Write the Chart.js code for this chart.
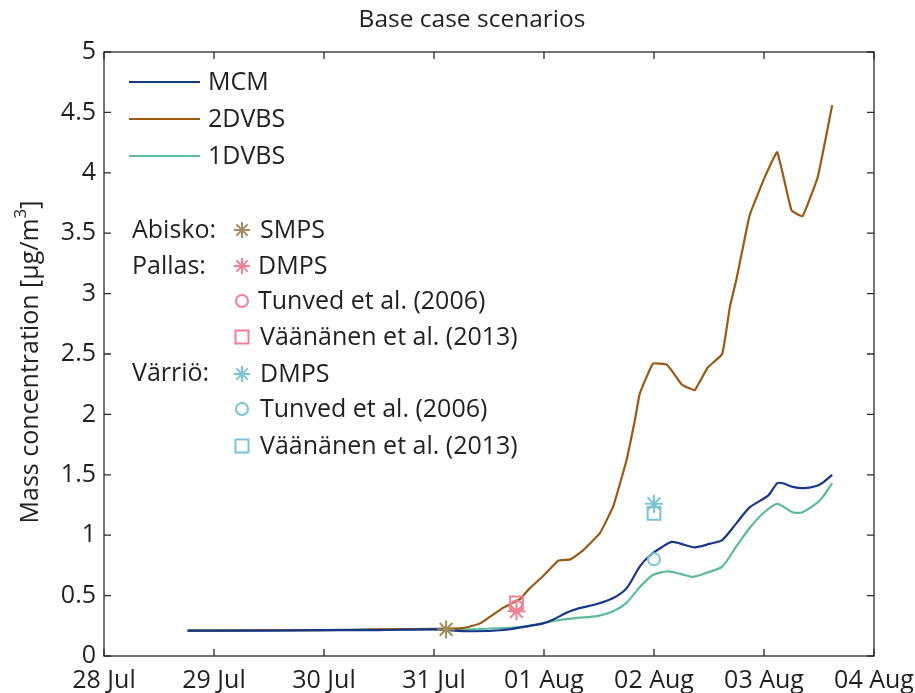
<!DOCTYPE html>
<html>
<head>
<meta charset="utf-8">
<script src="https://cdn.jsdelivr.net/npm/chart.js@4.4.1/dist/chart.umd.min.js"></script>
<style>
html,body{margin:0;padding:0;background:#fff;}
#wrap{width:915px;height:693px;position:relative;}
</style>
</head>
<body>
<div id="wrap"><canvas id="c" width="915" height="693"></canvas></div>
<script>
// ---- data (x = days since 28 Jul 00:00) ----
const dayLabels = ['28 Jul','29 Jul','30 Jul','31 Jul','01 Aug','02 Aug','03 Aug','04 Aug'];

const mcmT = [0.76,1.0,1.5,2.0,2.5,3.0,3.33,3.63,3.87,3.99,4.08,4.21,4.30,4.48,4.63,4.75,4.87,4.96,5.07,5.16,5.24,5.37,5.51,5.62,5.75,5.87,6.04,6.12,6.17,6.26,6.37,6.51,6.62];
const mcmV = [0.21,0.21,0.21,0.215,0.215,0.22,0.205,0.215,0.25,0.27,0.30,0.36,0.39,0.43,0.48,0.56,0.74,0.83,0.90,0.945,0.93,0.90,0.93,0.96,1.10,1.23,1.33,1.43,1.43,1.40,1.39,1.42,1.50];

const dvbs2T = [0.76,1.0,1.5,2.0,2.5,3.0,3.26,3.42,3.63,3.78,3.87,3.99,4.13,4.24,4.35,4.51,4.63,4.75,4.83,4.87,4.99,5.12,5.25,5.31,5.37,5.49,5.62,5.69,5.75,5.81,5.87,6.01,6.12,6.25,6.35,6.49,6.62];
const dvbs2V = [0.21,0.21,0.215,0.215,0.22,0.225,0.23,0.27,0.40,0.47,0.56,0.66,0.79,0.80,0.87,1.02,1.24,1.62,1.97,2.17,2.42,2.41,2.25,2.22,2.20,2.39,2.50,2.89,3.12,3.39,3.65,3.97,4.17,3.69,3.64,3.97,4.56];

const dvbs1T = [0.76,1.0,1.5,2.0,2.5,3.0,3.3,3.78,3.99,4.08,4.30,4.48,4.63,4.75,4.87,4.99,5.12,5.24,5.35,5.48,5.62,5.75,5.87,5.99,6.12,6.26,6.35,6.51,6.62];
const dvbs1V = [0.21,0.21,0.215,0.215,0.22,0.22,0.22,0.24,0.27,0.29,0.315,0.33,0.37,0.44,0.57,0.67,0.70,0.68,0.655,0.69,0.74,0.91,1.06,1.18,1.26,1.19,1.19,1.29,1.43];

// observations
const abiskoSmps = {t: 3.11, v: 0.22};
const pallasDmps = {t: 3.75, v: 0.37};
const pallasTunved = {t: 3.75, v: 0.41};
const pallasVaananen = {t: 3.75, v: 0.44};
const varrioDmps = {t: 5.0, v: 1.26};
const varrioTunved = {t: 5.0, v: 0.80};
const varrioVaananen = {t: 5.0, v: 1.18};

const seriesNames = ['MCM','2DVBS','1DVBS'];
const colMCM = '#17378a', col2 = '#9b5a14', col1 = '#5dbb98';
const colAbisko = '#a08e5c', colPallas = '#f08096', colVarrio = '#7cc3d3';
const FONT = '"Open Sans"';
const txtCol = '#231f20';

function pts(T, V){ return T.map((t,i)=>({x:t,y:V[i]})); }

const PL = {left:104, right:874, top:52, bottom:656};

function drawStar(ctx,x,y,r,col){
  ctx.save(); ctx.strokeStyle=col; ctx.lineWidth=2; ctx.beginPath();
  for(let k=0;k<4;k++){const a=k*Math.PI/4; ctx.moveTo(x-r*Math.cos(a),y-r*Math.sin(a)); ctx.lineTo(x+r*Math.cos(a),y+r*Math.sin(a));}
  ctx.stroke(); ctx.restore();
}
function drawCircle(ctx,x,y,r,col){ctx.save();ctx.strokeStyle=col;ctx.lineWidth=2;ctx.beginPath();ctx.arc(x,y,r,0,Math.PI*2);ctx.stroke();ctx.restore();}
function drawSquare(ctx,x,y,h,col){ctx.save();ctx.strokeStyle=col;ctx.lineWidth=2;ctx.strokeRect(x-h,y-h,2*h,2*h);ctx.restore();}

const decor = {
  id:'decor',
  afterDraw(chart){
    const ctx = chart.ctx, a = chart.chartArea;
    const xs = chart.scales.x, ys = chart.scales.y;
    ctx.save();
    // box
    ctx.strokeStyle = '#2b2b2b'; ctx.lineWidth = 1.3;
    ctx.strokeRect(a.left, a.top, a.right-a.left, a.bottom-a.top);
    // inward ticks
    ctx.beginPath();
    for(let d=0; d<dayLabels.length; d++){
      const px = xs.getPixelForValue(d);
      ctx.moveTo(px,a.bottom); ctx.lineTo(px,a.bottom-7);
      ctx.moveTo(px,a.top); ctx.lineTo(px,a.top+7);
    }
    for(let v=0; v<=5.0001; v+=0.5){
      const py = ys.getPixelForValue(v);
      ctx.moveTo(a.left,py); ctx.lineTo(a.left+7,py);
      ctx.moveTo(a.right,py); ctx.lineTo(a.right-7,py);
    }
    ctx.stroke();
    // title
    ctx.fillStyle = txtCol; ctx.textAlign='center'; ctx.textBaseline='middle';
    ctx.font = '24.5px '+FONT;
    ctx.fillText('Base case scenarios', 472, 20);
    // y title
    ctx.save();
    ctx.translate(31, 362); ctx.rotate(-Math.PI/2);
    ctx.font = '25px '+FONT; ctx.textBaseline='middle'; ctx.textAlign='left';
    const s1 = 'Mass concentration [μg/m', s3='3', s2=']';
    const w1 = ctx.measureText(s1).width;
    ctx.font = '17px '+FONT; const w3 = ctx.measureText(s3).width;
    ctx.font = '25px '+FONT; const w2 = ctx.measureText(s2).width;
    let x0 = -(w1+w3+w2)/2;
    ctx.fillText(s1, x0, 0);
    ctx.font = '17px '+FONT; ctx.fillText(s3, x0+w1, -10);
    ctx.font = '25px '+FONT; ctx.fillText(s2, x0+w1+w3, 0);
    ctx.restore();
    // legend lines
    ctx.font = '25px '+FONT; ctx.textAlign='left'; ctx.textBaseline='middle';
    const ly = [82,119,156], lc=[colMCM,col2,col1];
    for(let i=0;i<3;i++){
      ctx.strokeStyle=lc[i]; ctx.lineWidth=2.2; ctx.beginPath(); ctx.moveTo(129,ly[i]); ctx.lineTo(200,ly[i]); ctx.stroke();
      ctx.fillStyle=txtCol; ctx.fillText(seriesNames[i], 208, ly[i]+1);
    }
    // observation legend
    const mx = 242;
    ctx.fillStyle=txtCol;
    ctx.fillText('Abisko:', 132, 231);
    drawStar(ctx,mx,230,8,colAbisko); ctx.fillStyle=txtCol; ctx.fillText('SMPS', 260, 231);
    ctx.fillText('Pallas:', 132, 267);
    drawStar(ctx,mx,266,8,colPallas); ctx.fillStyle=txtCol; ctx.fillText('DMPS', 258, 267);
    drawCircle(ctx,mx,301,6,colPallas); ctx.fillStyle=txtCol; ctx.fillText('Tunved et al. (2006)', 258, 302);
    drawSquare(ctx,mx,337,6.5,colPallas); ctx.fillStyle=txtCol; ctx.fillText('Väänänen et al. (2013)', 260, 338);
    ctx.fillText('Värriö:', 132, 374);
    drawStar(ctx,mx,374,8,colVarrio); ctx.fillStyle=txtCol; ctx.fillText('DMPS', 260, 375);
    drawCircle(ctx,mx,409,6,colVarrio); ctx.fillStyle=txtCol; ctx.fillText('Tunved et al. (2006)', 260, 410);
    drawSquare(ctx,mx,446,6.5,colVarrio); ctx.fillStyle=txtCol; ctx.fillText('Väänänen et al. (2013)', 260, 447);
    ctx.restore();
  }
};

function lineDs(label, T, V, col, tension){
  return {label, data: pts(T,V), borderColor: col, backgroundColor: col, borderWidth: 2.2,
          pointRadius: 0, tension: tension, fill:false, showLine:true, order: 2};
}
function obsDs(label, o, col, style, r){
  return {label, data:[{x:o.t,y:o.v}], borderColor: col, backgroundColor: 'rgba(0,0,0,0)',
          pointStyle: style, pointRadius: r, pointBorderWidth: 2, showLine:false, order: 1};
}

new Chart(document.getElementById('c'), {
  type: 'scatter',
  data: {
    datasets: [
      lineDs(seriesNames[0], mcmT, mcmV, colMCM, 0.25),
      lineDs(seriesNames[1], dvbs2T, dvbs2V, col2, 0.1),
      lineDs(seriesNames[2], dvbs1T, dvbs1V, col1, 0.25),
      obsDs('Abisko SMPS', abiskoSmps, colAbisko, 'star', 9),
      obsDs('Pallas DMPS', pallasDmps, colPallas, 'star', 9),
      obsDs('Pallas Tunved', pallasTunved, colPallas, 'circle', 6),
      obsDs('Pallas Väänänen', pallasVaananen, colPallas, 'rect', 9),
      obsDs('Värriö DMPS', varrioDmps, colVarrio, 'star', 9),
      obsDs('Värriö Tunved', varrioTunved, colVarrio, 'circle', 6),
      obsDs('Värriö Väänänen', varrioVaananen, colVarrio, 'rect', 9)
    ]
  },
  options: {
    responsive: false, animation: false, devicePixelRatio: 1,
    layout: {padding: {left: 0, right: 915-PL.right, top: PL.top, bottom: 0}},
    plugins: {legend:{display:false}, tooltip:{enabled:false}, title:{display:false}},
    scales: {
      x: {type:'linear', min:0, max:7,
          afterFit(s){ s.height = 693-PL.bottom; s.paddingLeft = 0; s.paddingRight = 0; },
          ticks:{stepSize:1, color:txtCol, font:{family:FONT,size:25}, padding:10, maxRotation:0, autoSkip:false,
                 callback:(v)=> dayLabels[v] !== undefined ? dayLabels[v] : ''},
          grid:{display:false, drawTicks:false}, border:{display:false}},
      y: {type:'linear', min:0, max:5,
          afterFit(s){ s.width = PL.left; s.paddingTop = 0; s.paddingBottom = 0; },
          ticks:{stepSize:0.5, color:txtCol, font:{family:FONT,size:25}, padding:8,
                 callback:(v)=> String(v)},
          grid:{display:false, drawTicks:false}, border:{display:false}}
    }
  },
  plugins:[decor]
});
</script>
</body>
</html>
